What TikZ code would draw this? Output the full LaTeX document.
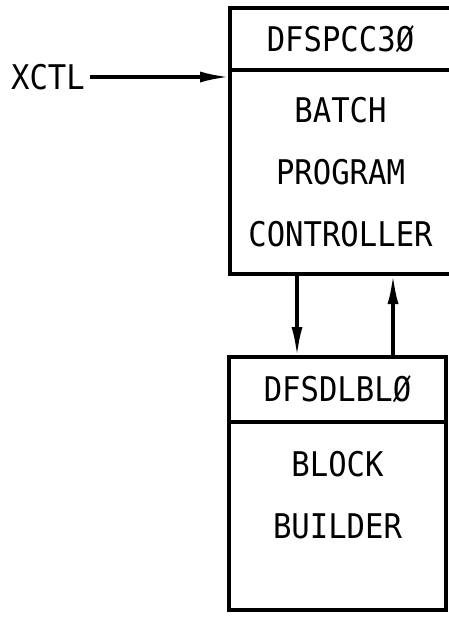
\documentclass[tikz,border=0pt]{standalone}
\usepackage{fontspec}
\newfontfamily\platefont[FakeStretch=0.9]{DejaVu Sans Mono}
\usetikzlibrary{arrows.meta,positioning}

\begin{document}
\begin{tikzpicture}[
  x=1pt, y=-1pt,
  font=\platefont\fontsize{34}{62}\selectfont,
  line width=4pt,
  titlebox/.style={draw, rectangle, outer sep=0pt, inner sep=0pt, minimum height=62pt},
  bodybox/.style={draw, rectangle, outer sep=0pt, inner sep=0pt, align=center},
  tag/.style={inner sep=3pt},
  flow/.style={-{Latex[length=30pt,width=11pt]}, line width=3.5pt}
]
\useasboundingbox (0,0) rectangle (448,621);

% Controller
\node[titlebox, minimum width=221pt, anchor=north west] (pcctitle) at (230,8) {DFSPCC3Ø};
\node[bodybox, minimum width=221pt, minimum height=204pt, below=0pt of pcctitle] (pccbody)
  {BATCH\\PROGRAM\\CONTROLLER};

% Block builder
\node[titlebox, minimum width=217pt, minimum height=65pt,
  below=83pt of pccbody.south west, anchor=north west, xshift=-1pt] (dlbtitle) {DFSDLBLØ};
\node[bodybox, minimum width=217pt, minimum height=188pt, below=0pt of dlbtitle] (dlbbody) {};
\node[align=center] (dlbtext) at ([yshift=-73pt]dlbbody.north) {BLOCK\\BUILDER};

% Input
\node[tag] (xctl) at (48,77) {XCTL};
\draw[flow] (xctl.east) -- (xctl.east -| pccbody.west);

% Links
\draw[flow] ([xshift=67pt]pccbody.south west) -- ([xshift=68pt]dlbtitle.north west);
\draw[flow] ([xshift=164pt]dlbtitle.north west) -- ([xshift=163pt]pccbody.south west);

\end{tikzpicture}
\end{document}
